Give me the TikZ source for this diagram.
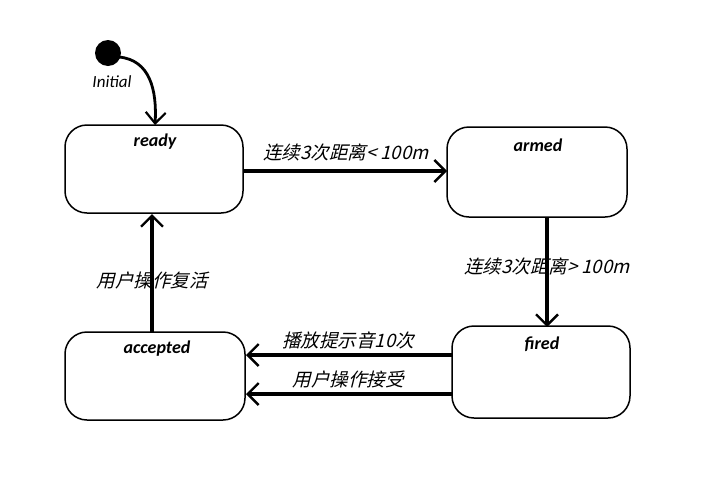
\documentclass[tikz,border=0pt]{standalone}
\usepackage{fontspec}
\setmainfont{Carlito}
\newfontfamily\cjk[FakeSlant=0.25]{Noto Sans CJK SC}
\usetikzlibrary{arrows.meta}
\begin{document}
\begin{tikzpicture}[x=1pt,y=-1pt,
  statebox/.style={draw=black,line width=1.5pt,rounded corners=22pt,fill=white},
  title/.style={font=\fontsize{18}{19}\selectfont\bfseries\itshape,inner sep=0pt},
  trans/.style={line width=3.2pt,-{Straight Barb[length=11pt,width=22pt,line width=2.4pt]}},
  lbl/.style={font=\cjk\fontsize{18.5}{19}\selectfont,inner sep=0pt}]
\useasboundingbox (0,0) rectangle (701,493);
\fill[white] (0,0) rectangle (701,493);
% states
\draw[statebox] (65,125) rectangle (243,213);
\draw[statebox] (447,127) rectangle (627,217);
\draw[statebox] (452,326) rectangle (630,418);
\draw[statebox] (65,332) rectangle (245,420);
\node[title] (tready) at (155,142) {ready};
\node[title] (tarmed) at (538,145) {armed};
\node[title] (tfired) at (542,344) {fired};
\node[title] (taccepted) at (157,349) {accepted};
% anchor coordinates
\coordinate (readyTop) at (155,125);
\coordinate (readyR) at (244,171);
\coordinate (armedL) at (447,171);
\coordinate (armedB) at (547,218);
\coordinate (firedT) at (547,327);
\coordinate (firedL1) at (452,355);
\coordinate (firedL2) at (452,394);
\coordinate (accL1) at (246,355);
\coordinate (accL2) at (246,394);
\coordinate (accT) at (152,332);
\coordinate (readyB) at (152,214);
% initial
\fill[black] (108,53) circle (13) coordinate (init);
\node[font=\fontsize{17}{18}\selectfont\itshape,inner sep=0pt] (initlbl) at (112,82) {Initial};
\coordinate (initR) at (119,57);
\draw[line width=2.8pt,-{Straight Barb[length=11pt,width=20pt,line width=2.2pt]}] (initR) .. controls (150,60) and (157,90) .. (readyTop);
% transitions
\draw[trans] (readyR) -- (armedL);
\draw[trans] (armedB) -- (firedT);
\draw[trans] (accT) -- (readyB);
\draw[trans] (firedL1) -- (accL1);
\draw[trans] (firedL2) -- (accL2);
% labels
\node[lbl] (l1) at (346,152) {连续3次距离< 100m};
\node[lbl] (l2) at (547,266) {连续3次距离> 100m};
\node[lbl] (l3) at (152,280) {用户操作复活};
\node[lbl] (l4) at (348,340) {播放提示音10次};
\node[lbl] (l5) at (348,379) {用户操作接受};
\end{tikzpicture}
\end{document}
